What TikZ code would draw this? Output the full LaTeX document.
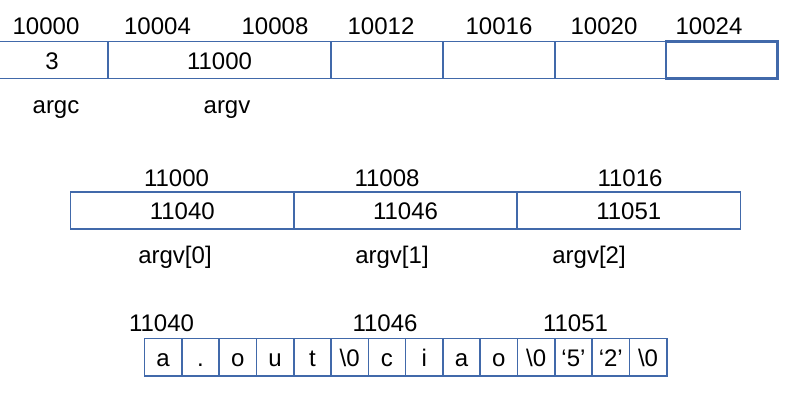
\documentclass[tikz,border=0pt]{standalone}
\usepackage{fontspec}
\setmainfont{Liberation Sans}
\definecolor{cellblue}{RGB}{65,105,170}
\begin{document}
\begin{tikzpicture}[x=1pt,y=-1pt,
  txt/.style={font=\fontsize{24}{28}\selectfont},
  cell/.style={txt,draw=cellblue, line width=1.6pt, rectangle, inner sep=0pt,
    minimum height=37pt, text height=18pt, text depth=0pt},
  lbl/.style={txt,anchor=base, inner sep=0pt}]
\useasboundingbox (0,0) rectangle (803,405);
\begin{scope}
\clip (0,0) rectangle (803,405);
% top row
\node[cell, minimum width=112pt] (c0) at (52,60) {3};
\node[cell, minimum width=223pt] (c1) at (219.5,60) {11000};
\node[cell, minimum width=112pt] (c2) at (387,60) {};
\node[cell, minimum width=112pt] (c3) at (499,60) {};
\node[cell, minimum width=111pt] (c4) at (610.5,60) {};
\node[cell, minimum width=111.5pt, line width=2.2pt] (c5) at (721.7,60) {};
\end{scope}
\node[lbl] (a0) at (46,34) {10000};
\node[lbl] (a1) at (157.5,34) {10004};
\node[lbl] (a2) at (275,34) {10008};
\node[lbl] (a3) at (381,34) {10012};
\node[lbl] (a4) at (499,34) {10016};
\node[lbl] (a5) at (604,34) {10020};
\node[lbl] (a6) at (709,34) {10024};
\node[lbl] (argc) at (56,113) {argc};
\node[lbl] (argv) at (227,113) {argv};
% middle row
\node[cell, minimum width=223.5pt] (m0) at (182.25,210.3) {11040};
\node[cell, minimum width=223pt] (m1) at (405.5,210.3) {11046};
\node[cell, minimum width=223.5pt] (m2) at (628.75,210.3) {11051};
\node[lbl] (ma0) at (176.5,186) {11000};
\node[lbl] (ma1) at (387,186) {11008};
\node[lbl] (ma2) at (630,186) {11016};
\node[lbl] (av0) at (175,263) {argv[0]};
\node[lbl] (av1) at (392,263) {argv[1]};
\node[lbl] (av2) at (589,263) {argv[2]};
% bottom row
\foreach \t [count=\i] in {a,.,o,u,t,\textbackslash0,c,i,a,o,\textbackslash0,‘5’,‘2’,\textbackslash0}
  \node[cell, minimum width=37.3pt, minimum height=37.5pt] (b\i) at ({144.5+37.3*(\i-0.5)},357.2) {\t};
\node[lbl] (ba0) at (161.5,331.7) {11040};
\node[lbl] (ba1) at (385,331.7) {11046};
\node[lbl] (ba2) at (575.5,331.7) {11051};
\end{tikzpicture}
\end{document}
